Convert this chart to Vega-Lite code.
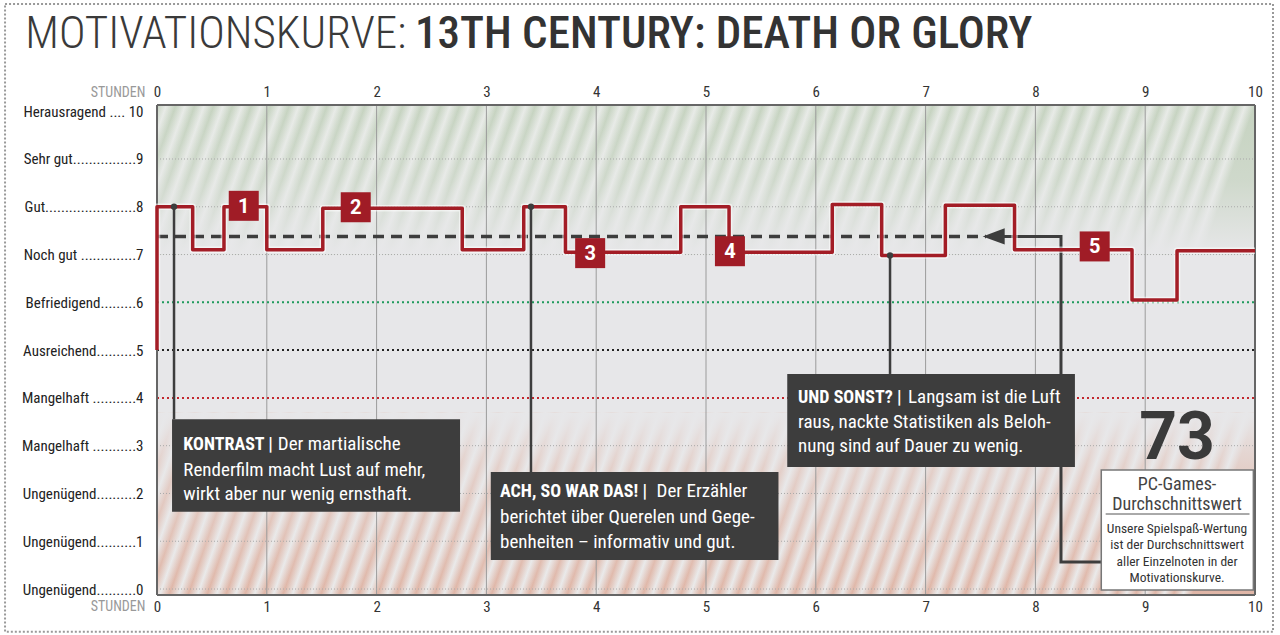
{
  "$schema": "https://vega.github.io/schema/vega-lite/v6.json",
  "width": 1098,
  "height": 490,
  "autosize": "none",
  "padding": {"left": 157, "top": 105, "right": 25, "bottom": 40},
  "background": "white",
  "config": {
    "view": {"fill": "#e7e7e9", "stroke": null},
    "font": "Liberation Sans Narrow, Roboto Condensed, Roboto",
    "text": {"font": "Liberation Sans Narrow, Roboto Condensed, Roboto"}
  },
  "datasets": {
    "steps": [
      {"i": 0, "h": 0, "v": 5}, {"i": 1, "h": 0, "v": 8}, {"i": 2, "h": 0.325, "v": 7.1},
      {"i": 3, "h": 0.61, "v": 8}, {"i": 4, "h": 1.0, "v": 7.1}, {"i": 5, "h": 1.51, "v": 7.97},
      {"i": 6, "h": 2.78, "v": 7.1}, {"i": 7, "h": 3.34, "v": 8}, {"i": 8, "h": 3.72, "v": 7.05},
      {"i": 9, "h": 4.77, "v": 8}, {"i": 10, "h": 5.21, "v": 7.05}, {"i": 11, "h": 6.15, "v": 8.05},
      {"i": 12, "h": 6.6, "v": 6.98}, {"i": 13, "h": 7.18, "v": 8.03}, {"i": 14, "h": 7.81, "v": 7.1},
      {"i": 15, "h": 8.88, "v": 6.05}, {"i": 16, "h": 9.29, "v": 7.08}, {"i": 17, "h": 10, "v": 7.08}
    ],
    "avg": [{"h": 0, "v": 7.38}, {"h": 7.55, "v": 7.38}],
    "arrowpath": [
      {"i": 0, "h": 7.62, "v": 7.38}, {"i": 1, "h": 8.233, "v": 7.38},
      {"i": 2, "h": 8.233, "v": 0.565}, {"i": 3, "h": 8.6, "v": 0.565}
    ],
    "badges": [
      {"h": 0.79, "v": 8.02, "n": "1"}, {"h": 1.81, "v": 7.99, "n": "2"},
      {"h": 3.945, "v": 7.03, "n": "3"}, {"h": 5.218, "v": 7.07, "n": "4"},
      {"h": 8.54, "v": 7.17, "n": "5"}
    ],
    "vgrid": [{"h": 1}, {"h": 2}, {"h": 3}, {"h": 4}, {"h": 5}, {"h": 6}, {"h": 7}, {"h": 8}, {"h": 9}],
    "hgrid": [{"v": 0}, {"v": 1}, {"v": 2}, {"v": 3}, {"v": 7}, {"v": 8}, {"v": 9}],
    "hgridc": [{"v": 6, "k": "Befriedigend"}, {"v": 5, "k": "Ausreichend"}, {"v": 4, "k": "Mangelhaft"}],
    "borders": [
      {"a": 0, "b": 10, "c": 10.13, "d": 10.13}, {"a": 0, "b": 10, "c": -0.125, "d": -0.125},
      {"a": 0, "b": 0, "c": -0.125, "d": 10.13}, {"a": 10, "b": 10, "c": -0.125, "d": 10.13}
    ],
    "connectors": [
      {"h": 0.155, "top": 8, "bot": 3.552},
      {"h": 3.406, "top": 8, "bot": 2.449},
      {"h": 6.676, "top": 6.98, "bot": 4.501}
    ],
    "boxes": [
      {"x1": 0.137, "x2": 2.76, "y1": 3.552, "y2": 1.618},
      {"x1": 3.04, "x2": 5.66, "y1": 2.449, "y2": 0.607},
      {"x1": 5.74, "x2": 8.36, "y1": 4.501, "y2": 2.554}
    ],
    "boldtext": [
      {"h": 0.24, "v": 2.91, "t": "KONTRAST |"},
      {"h": 3.124, "v": 1.92, "t": "ACH, SO WAR DAS! |"},
      {"h": 5.838, "v": 3.894, "t": "UND SONST? |"}
    ],
    "regtext": [
      {"h": 1.1, "v": 2.91, "t": "Der martialische"},
      {"h": 0.24, "v": 2.366, "t": "Renderfilm macht Lust auf mehr,"},
      {"h": 0.24, "v": 1.863, "t": "wirkt aber nur wenig ernsthaft."},
      {"h": 4.55, "v": 1.92, "t": "Der Erzähler"},
      {"h": 3.124, "v": 1.388, "t": "berichtet über Querelen und Gege-"},
      {"h": 3.124, "v": 0.852, "t": "benheiten – informativ und gut."},
      {"h": 6.84, "v": 3.894, "t": "Langsam ist die Luft"},
      {"h": 5.838, "v": 3.37, "t": "raus, nackte Statistiken als Beloh-"},
      {"h": 5.838, "v": 2.868, "t": "nung sind auf Dauer zu wenig."}
    ],
    "scoresmall": [
      {"t": "Unsere Spielspaß-Wertung", "v": 1.166},
      {"t": "ist der Durchschnittswert", "v": 0.837},
      {"t": "aller Einzelnoten in der", "v": 0.488},
      {"t": "Motivationskurve.", "v": 0.153}
    ],
    "one": [{}]
  },
  "resolve": {"axis": {"x": "independent", "y": "independent"}},
  "layer": [
    {
      "data": {"name": "one"},
      "mark": {"type": "rect", "fill": {"gradient": "linear", "x1": 0, "y1": 0, "x2": 1, "y2": 0.048,
        "stops": [
{"offset":0,"color":"#c4d2be"},{"offset":0.0086,"color":"#e8ebe7"},{"offset":0.0172,"color":"#c4d2be"},{"offset":0.0258,"color":"#e8ebe7"},
{"offset":0.0344,"color":"#c4d2be"},{"offset":0.043,"color":"#e8ebe7"},{"offset":0.0516,"color":"#c4d2be"},{"offset":0.0602,"color":"#e8ebe7"},
{"offset":0.0688,"color":"#c4d2be"},{"offset":0.0774,"color":"#e8ebe7"},{"offset":0.086,"color":"#c4d2be"},{"offset":0.0946,"color":"#e8ebe7"},
{"offset":0.1032,"color":"#c4d2be"},{"offset":0.1118,"color":"#e8ebe7"},{"offset":0.1204,"color":"#c4d2be"},{"offset":0.129,"color":"#e8ebe7"},
{"offset":0.1376,"color":"#c4d2be"},{"offset":0.1462,"color":"#e8ebe7"},{"offset":0.1548,"color":"#c4d2be"},{"offset":0.1634,"color":"#e8ebe7"},
{"offset":0.172,"color":"#c4d2be"},{"offset":0.1806,"color":"#e8ebe7"},{"offset":0.1892,"color":"#c4d2be"},{"offset":0.1978,"color":"#e8ebe7"},
{"offset":0.2064,"color":"#c4d2be"},{"offset":0.215,"color":"#e8ebe7"},{"offset":0.2236,"color":"#c4d2be"},{"offset":0.2322,"color":"#e8ebe7"},
{"offset":0.2408,"color":"#c4d2be"},{"offset":0.2494,"color":"#e8ebe7"},{"offset":0.258,"color":"#c4d2be"},{"offset":0.2666,"color":"#e8ebe7"},
{"offset":0.2752,"color":"#c4d2be"},{"offset":0.2838,"color":"#e8ebe7"},{"offset":0.2924,"color":"#c4d2be"},{"offset":0.301,"color":"#e8ebe7"},
{"offset":0.3096,"color":"#c4d2be"},{"offset":0.3182,"color":"#e8ebe7"},{"offset":0.3268,"color":"#c4d2be"},{"offset":0.3354,"color":"#e8ebe7"},
{"offset":0.344,"color":"#c4d2be"},{"offset":0.3526,"color":"#e8ebe7"},{"offset":0.3612,"color":"#c4d2be"},{"offset":0.3698,"color":"#e8ebe7"},
{"offset":0.3784,"color":"#c4d2be"},{"offset":0.387,"color":"#e8ebe7"},{"offset":0.3956,"color":"#c4d2be"},{"offset":0.4042,"color":"#e8ebe7"},
{"offset":0.4128,"color":"#c4d2be"},{"offset":0.4214,"color":"#e8ebe7"},{"offset":0.43,"color":"#c4d2be"},{"offset":0.4386,"color":"#e8ebe7"},
{"offset":0.4472,"color":"#c4d2be"},{"offset":0.4558,"color":"#e8ebe7"},{"offset":0.4644,"color":"#c4d2be"},{"offset":0.473,"color":"#e8ebe7"},
{"offset":0.4816,"color":"#c4d2be"},{"offset":0.4902,"color":"#e8ebe7"},{"offset":0.4988,"color":"#c4d2be"},{"offset":0.5074,"color":"#e8ebe7"},
{"offset":0.516,"color":"#c4d2be"},{"offset":0.5246,"color":"#e8ebe7"},{"offset":0.5332,"color":"#c4d2be"},{"offset":0.5418,"color":"#e8ebe7"},
{"offset":0.5504,"color":"#c4d2be"},{"offset":0.559,"color":"#e8ebe7"},{"offset":0.5676,"color":"#c4d2be"},{"offset":0.5762,"color":"#e8ebe7"},
{"offset":0.5848,"color":"#c4d2be"},{"offset":0.5934,"color":"#e8ebe7"},{"offset":0.602,"color":"#c4d2be"},{"offset":0.6106,"color":"#e8ebe7"},
{"offset":0.6192,"color":"#c4d2be"},{"offset":0.6278,"color":"#e8ebe7"},{"offset":0.6364,"color":"#c4d2be"},{"offset":0.645,"color":"#e8ebe7"},
{"offset":0.6536,"color":"#c4d2be"},{"offset":0.6622,"color":"#e8ebe7"},{"offset":0.6708,"color":"#c4d2be"},{"offset":0.6794,"color":"#e8ebe7"},
{"offset":0.688,"color":"#c4d2be"},{"offset":0.6966,"color":"#e8ebe7"},{"offset":0.7052,"color":"#c4d2be"},{"offset":0.7138,"color":"#e8ebe7"},
{"offset":0.7224,"color":"#c4d2be"},{"offset":0.731,"color":"#e8ebe7"},{"offset":0.7396,"color":"#c4d2be"},{"offset":0.7482,"color":"#e8ebe7"},
{"offset":0.7568,"color":"#c4d2be"},{"offset":0.7654,"color":"#e8ebe7"},{"offset":0.774,"color":"#c4d2be"},{"offset":0.7826,"color":"#e8ebe7"},
{"offset":0.7912,"color":"#c4d2be"},{"offset":0.7998,"color":"#e8ebe7"},{"offset":0.8084,"color":"#c4d2be"},{"offset":0.817,"color":"#e8ebe7"},
{"offset":0.8256,"color":"#c4d2be"},{"offset":0.8342,"color":"#e8ebe7"},{"offset":0.8428,"color":"#c4d2be"},{"offset":0.8514,"color":"#e8ebe7"},
{"offset":0.86,"color":"#c4d2be"},{"offset":0.8686,"color":"#e8ebe7"},{"offset":0.8772,"color":"#c4d2be"},{"offset":0.8858,"color":"#e8ebe7"},
{"offset":0.8944,"color":"#c4d2be"},{"offset":0.903,"color":"#e8ebe7"},{"offset":0.9116,"color":"#c4d2be"},{"offset":0.9202,"color":"#e8ebe7"},
{"offset":0.9288,"color":"#c4d2be"},{"offset":0.9374,"color":"#e8ebe7"},{"offset":0.946,"color":"#c4d2be"},{"offset":0.9546,"color":"#e8ebe7"},
{"offset":0.9632,"color":"#c4d2be"},{"offset":0.9718,"color":"#e8ebe7"},{"offset":0.9804,"color":"#c4d2be"},{"offset":0.989,"color":"#e8ebe7"},
{"offset":0.9976,"color":"#c4d2be"}
        ]}},
      "encoding": {
        "x": {"datum": 0, "type": "quantitative", "scale": {"domain": [0, 10], "nice": false, "zero": false}, "axis": null},
        "x2": {"datum": 10},
        "y": {"datum": 10.13, "type": "quantitative", "scale": {"domain": [-0.125, 10.13], "nice": false, "zero": false}, "axis": null},
        "y2": {"datum": 7.0}
      }
    },
    {
      "data": {"name": "one"},
      "mark": {"type": "rect", "fill": {"gradient": "linear", "x1": 0, "y1": 0, "x2": 0, "y2": 1,
        "stops": [{"offset": 0, "color": "rgba(231,231,233,0.05)"}, {"offset": 0.5, "color": "rgba(231,231,233,0.3)"}, {"offset": 1, "color": "rgba(231,231,233,1)"}]}},
      "encoding": {
        "x": {"datum": 0, "type": "quantitative", "axis": null},
        "x2": {"datum": 10},
        "y": {"datum": 10.13, "type": "quantitative", "axis": null},
        "y2": {"datum": 7.0}
      }
    },
    {
      "data": {"name": "one"},
      "mark": {"type": "rect", "fill": {"gradient": "linear", "x1": 0, "y1": 0, "x2": 1, "y2": 0.058,
        "stops": [
{"offset":0,"color":"#dfb3a3"},{"offset":0.0086,"color":"#eaeaea"},{"offset":0.0172,"color":"#dfb3a3"},{"offset":0.0258,"color":"#eaeaea"},
{"offset":0.0344,"color":"#dfb3a3"},{"offset":0.043,"color":"#eaeaea"},{"offset":0.0516,"color":"#dfb3a3"},{"offset":0.0602,"color":"#eaeaea"},
{"offset":0.0688,"color":"#dfb3a3"},{"offset":0.0774,"color":"#eaeaea"},{"offset":0.086,"color":"#dfb3a3"},{"offset":0.0946,"color":"#eaeaea"},
{"offset":0.1032,"color":"#dfb3a3"},{"offset":0.1118,"color":"#eaeaea"},{"offset":0.1204,"color":"#dfb3a3"},{"offset":0.129,"color":"#eaeaea"},
{"offset":0.1376,"color":"#dfb3a3"},{"offset":0.1462,"color":"#eaeaea"},{"offset":0.1548,"color":"#dfb3a3"},{"offset":0.1634,"color":"#eaeaea"},
{"offset":0.172,"color":"#dfb3a3"},{"offset":0.1806,"color":"#eaeaea"},{"offset":0.1892,"color":"#dfb3a3"},{"offset":0.1978,"color":"#eaeaea"},
{"offset":0.2064,"color":"#dfb3a3"},{"offset":0.215,"color":"#eaeaea"},{"offset":0.2236,"color":"#dfb3a3"},{"offset":0.2322,"color":"#eaeaea"},
{"offset":0.2408,"color":"#dfb3a3"},{"offset":0.2494,"color":"#eaeaea"},{"offset":0.258,"color":"#dfb3a3"},{"offset":0.2666,"color":"#eaeaea"},
{"offset":0.2752,"color":"#dfb3a3"},{"offset":0.2838,"color":"#eaeaea"},{"offset":0.2924,"color":"#dfb3a3"},{"offset":0.301,"color":"#eaeaea"},
{"offset":0.3096,"color":"#dfb3a3"},{"offset":0.3182,"color":"#eaeaea"},{"offset":0.3268,"color":"#dfb3a3"},{"offset":0.3354,"color":"#eaeaea"},
{"offset":0.344,"color":"#dfb3a3"},{"offset":0.3526,"color":"#eaeaea"},{"offset":0.3612,"color":"#dfb3a3"},{"offset":0.3698,"color":"#eaeaea"},
{"offset":0.3784,"color":"#dfb3a3"},{"offset":0.387,"color":"#eaeaea"},{"offset":0.3956,"color":"#dfb3a3"},{"offset":0.4042,"color":"#eaeaea"},
{"offset":0.4128,"color":"#dfb3a3"},{"offset":0.4214,"color":"#eaeaea"},{"offset":0.43,"color":"#dfb3a3"},{"offset":0.4386,"color":"#eaeaea"},
{"offset":0.4472,"color":"#dfb3a3"},{"offset":0.4558,"color":"#eaeaea"},{"offset":0.4644,"color":"#dfb3a3"},{"offset":0.473,"color":"#eaeaea"},
{"offset":0.4816,"color":"#dfb3a3"},{"offset":0.4902,"color":"#eaeaea"},{"offset":0.4988,"color":"#dfb3a3"},{"offset":0.5074,"color":"#eaeaea"},
{"offset":0.516,"color":"#dfb3a3"},{"offset":0.5246,"color":"#eaeaea"},{"offset":0.5332,"color":"#dfb3a3"},{"offset":0.5418,"color":"#eaeaea"},
{"offset":0.5504,"color":"#dfb3a3"},{"offset":0.559,"color":"#eaeaea"},{"offset":0.5676,"color":"#dfb3a3"},{"offset":0.5762,"color":"#eaeaea"},
{"offset":0.5848,"color":"#dfb3a3"},{"offset":0.5934,"color":"#eaeaea"},{"offset":0.602,"color":"#dfb3a3"},{"offset":0.6106,"color":"#eaeaea"},
{"offset":0.6192,"color":"#dfb3a3"},{"offset":0.6278,"color":"#eaeaea"},{"offset":0.6364,"color":"#dfb3a3"},{"offset":0.645,"color":"#eaeaea"},
{"offset":0.6536,"color":"#dfb3a3"},{"offset":0.6622,"color":"#eaeaea"},{"offset":0.6708,"color":"#dfb3a3"},{"offset":0.6794,"color":"#eaeaea"},
{"offset":0.688,"color":"#dfb3a3"},{"offset":0.6966,"color":"#eaeaea"},{"offset":0.7052,"color":"#dfb3a3"},{"offset":0.7138,"color":"#eaeaea"},
{"offset":0.7224,"color":"#dfb3a3"},{"offset":0.731,"color":"#eaeaea"},{"offset":0.7396,"color":"#dfb3a3"},{"offset":0.7482,"color":"#eaeaea"},
{"offset":0.7568,"color":"#dfb3a3"},{"offset":0.7654,"color":"#eaeaea"},{"offset":0.774,"color":"#dfb3a3"},{"offset":0.7826,"color":"#eaeaea"},
{"offset":0.7912,"color":"#dfb3a3"},{"offset":0.7998,"color":"#eaeaea"},{"offset":0.8084,"color":"#dfb3a3"},{"offset":0.817,"color":"#eaeaea"},
{"offset":0.8256,"color":"#dfb3a3"},{"offset":0.8342,"color":"#eaeaea"},{"offset":0.8428,"color":"#dfb3a3"},{"offset":0.8514,"color":"#eaeaea"},
{"offset":0.86,"color":"#dfb3a3"},{"offset":0.8686,"color":"#eaeaea"},{"offset":0.8772,"color":"#dfb3a3"},{"offset":0.8858,"color":"#eaeaea"},
{"offset":0.8944,"color":"#dfb3a3"},{"offset":0.903,"color":"#eaeaea"},{"offset":0.9116,"color":"#dfb3a3"},{"offset":0.9202,"color":"#eaeaea"},
{"offset":0.9288,"color":"#dfb3a3"},{"offset":0.9374,"color":"#eaeaea"},{"offset":0.946,"color":"#dfb3a3"},{"offset":0.9546,"color":"#eaeaea"},
{"offset":0.9632,"color":"#dfb3a3"},{"offset":0.9718,"color":"#eaeaea"},{"offset":0.9804,"color":"#dfb3a3"},{"offset":0.989,"color":"#eaeaea"},
{"offset":0.9976,"color":"#dfb3a3"}
        ]}},
      "encoding": {
        "x": {"datum": 0, "type": "quantitative", "axis": null},
        "x2": {"datum": 10},
        "y": {"datum": 3.7, "type": "quantitative", "axis": null},
        "y2": {"datum": -0.125}
      }
    },
    {
      "data": {"name": "one"},
      "mark": {"type": "rect", "fill": {"gradient": "linear", "x1": 0, "y1": 0, "x2": 0, "y2": 1,
        "stops": [{"offset": 0, "color": "rgba(231,231,233,1)"}, {"offset": 0.3, "color": "rgba(231,231,233,0.55)"}, {"offset": 1, "color": "rgba(231,231,233,0.05)"}]}},
      "encoding": {
        "x": {"datum": 0, "type": "quantitative", "axis": null},
        "x2": {"datum": 10},
        "y": {"datum": 3.7, "type": "quantitative", "axis": null},
        "y2": {"datum": -0.125}
      }
    },
    {
      "data": {"name": "vgrid"},
      "mark": {"type": "rule", "color": "#9b9b9b", "strokeWidth": 1},
      "encoding": {
        "x": {"field": "h", "type": "quantitative",
          "axis": {"orient": "top", "values": [0, 1, 2, 3, 4, 5, 6, 7, 8, 9, 10], "format": "d",
            "ticks": false, "tickSize": 0, "domain": false, "grid": false, "labelPadding": 6,
            "labelFont": "Liberation Sans Narrow, Roboto Condensed, Roboto", "labelFontSize": 15, "labelColor": "#333",
            "labelFlush": false, "labelOverlap": false,
            "title": "STUNDEN", "titleColor": "#999", "titleFont": "Liberation Sans Narrow, Roboto Condensed, Roboto",
            "titleFontSize": 14, "titleFontWeight": "normal", "titleAngle": 0,
            "titleX": -12, "titleY": -6, "titleAlign": "right", "titleBaseline": "bottom"}},
        "y": {"datum": -0.125, "type": "quantitative", "axis": null},
        "y2": {"datum": 10.13}
      }
    },
    {
      "data": {"name": "hgrid"},
      "mark": {"type": "rule", "color": "#a9a9a9", "strokeWidth": 1, "strokeDash": [1, 2]},
      "encoding": {
        "x": {"datum": 0, "type": "quantitative", "axis": null},
        "x2": {"datum": 10},
        "y": {"field": "v", "type": "quantitative",
          "axis": {"orient": "left", "values": [0, 1, 2, 3, 4, 5, 6, 7, 8, 9, 10],
            "labelExpr": "['Ungenügend..........0','Ungenügend..........1','Ungenügend..........2','Mangelhaft ...........3','Mangelhaft ...........4','Ausreichend..........5','Befriedigend.........6','Noch gut ..............7','Gut.......................8','Sehr gut................9','Herausragend .... 10'][datum.value]",
            "ticks": false, "tickSize": 0, "domain": false, "grid": false, "labelPadding": 14,
            "labelFont": "Liberation Sans Narrow, Roboto Condensed, Roboto", "labelFontSize": 15, "labelColor": "#222",
            "labelBaseline": "middle", "labelFlush": false, "labelOverlap": false, "title": null}}
      }
    },
    {
      "data": {"name": "hgridc"},
      "mark": {"type": "rule", "strokeWidth": 2, "strokeDash": [2, 3]},
      "encoding": {
        "x": {"datum": 0, "type": "quantitative", "axis": null},
        "x2": {"datum": 10},
        "y": {"field": "v", "type": "quantitative", "axis": null},
        "color": {"field": "k", "type": "nominal", "legend": null,
          "scale": {"domain": ["Befriedigend", "Ausreichend", "Mangelhaft"], "range": ["#1f9a5c", "#222222", "#c2272d"]}}
      }
    },
    {
      "data": {"name": "borders"},
      "mark": {"type": "rule", "color": "#666", "strokeWidth": 2},
      "encoding": {
        "x": {"field": "a", "type": "quantitative", "axis": null},
        "x2": {"field": "b"},
        "y": {"field": "c", "type": "quantitative", "axis": null},
        "y2": {"field": "d"}
      }
    },
    {
      "data": {"name": "avg"},
      "mark": {"type": "line", "color": "#3d3d3d", "strokeWidth": 3.5, "strokeDash": [11, 7]},
      "encoding": {
        "x": {"field": "h", "type": "quantitative", "axis": null},
        "y": {"field": "v", "type": "quantitative", "axis": null}
      }
    },
    {
      "data": {"name": "arrowpath"},
      "mark": {"type": "line", "color": "#3d3d3d", "strokeWidth": 3, "strokeJoin": "miter"},
      "encoding": {
        "x": {"field": "h", "type": "quantitative", "axis": null},
        "y": {"field": "v", "type": "quantitative", "axis": null},
        "order": {"field": "i", "type": "quantitative"}
      }
    },
    {
      "data": {"name": "one"},
      "mark": {"type": "point", "shape": "M -1 0 L 1 -0.73 L 1 0.73 Z", "size": 484, "filled": true, "color": "#3d3d3d", "opacity": 1},
      "encoding": {
        "x": {"datum": 7.62, "type": "quantitative", "axis": null},
        "y": {"datum": 7.38, "type": "quantitative", "axis": null}
      }
    },
    {
      "data": {"name": "steps"},
      "mark": {"type": "line", "interpolate": "step-after", "color": "#ffffff", "opacity": 0.55, "strokeWidth": 6.5, "strokeJoin": "round"},
      "encoding": {
        "x": {"field": "h", "type": "quantitative", "axis": null},
        "y": {"field": "v", "type": "quantitative", "axis": null},
        "order": {"field": "i", "type": "quantitative"}
      }
    },
    {
      "data": {"name": "steps"},
      "mark": {"type": "line", "interpolate": "step-after", "color": "#a31d26", "strokeWidth": 3.5, "strokeJoin": "round"},
      "encoding": {
        "x": {"field": "h", "type": "quantitative", "scale": {"domain": [0, 10], "nice": false, "zero": false},
          "axis": {"orient": "bottom", "values": [0, 1, 2, 3, 4, 5, 6, 7, 8, 9, 10], "format": "d",
            "ticks": false, "tickSize": 0, "domain": false, "grid": false, "labelPadding": 4,
            "labelFont": "Liberation Sans Narrow, Roboto Condensed, Roboto", "labelFontSize": 15, "labelColor": "#333",
            "labelFlush": false, "labelOverlap": false,
            "title": "STUNDEN", "titleColor": "#999", "titleFont": "Liberation Sans Narrow, Roboto Condensed, Roboto",
            "titleFontSize": 14, "titleFontWeight": "normal", "titleAngle": 0,
            "titleX": -12, "titleY": 4, "titleAlign": "right", "titleBaseline": "top"}},
        "y": {"field": "v", "type": "quantitative", "axis": null},
        "order": {"field": "i", "type": "quantitative"}
      }
    },
    {
      "data": {"name": "badges"},
      "mark": {"type": "point", "shape": "square", "filled": true, "size": 900, "color": "#a01c26", "opacity": 1},
      "encoding": {
        "x": {"field": "h", "type": "quantitative", "axis": null},
        "y": {"field": "v", "type": "quantitative", "axis": null}
      }
    },
    {
      "data": {"name": "badges"},
      "mark": {"type": "text", "font": "Roboto", "fontWeight": "bold", "fontSize": 20, "color": "white", "baseline": "middle", "align": "center", "dy": 1},
      "encoding": {
        "x": {"field": "h", "type": "quantitative", "axis": null},
        "y": {"field": "v", "type": "quantitative", "axis": null},
        "text": {"field": "n"}
      }
    },
    {
      "data": {"name": "connectors"},
      "mark": {"type": "rule", "color": "#3d3d3d", "strokeWidth": 2.5},
      "encoding": {
        "x": {"field": "h", "type": "quantitative", "axis": null},
        "y": {"field": "top", "type": "quantitative", "axis": null},
        "y2": {"field": "bot"}
      }
    },
    {
      "data": {"name": "connectors"},
      "mark": {"type": "point", "shape": "circle", "filled": true, "size": 40, "color": "#3d3d3d", "opacity": 1},
      "encoding": {
        "x": {"field": "h", "type": "quantitative", "axis": null},
        "y": {"field": "top", "type": "quantitative", "axis": null}
      }
    },
    {
      "data": {"name": "boxes"},
      "mark": {"type": "rect", "color": "#3d3d3d"},
      "encoding": {
        "x": {"field": "x1", "type": "quantitative", "axis": null},
        "x2": {"field": "x2"},
        "y": {"field": "y1", "type": "quantitative", "axis": null},
        "y2": {"field": "y2"}
      }
    },
    {
      "data": {"name": "boldtext"},
      "mark": {"type": "text", "fontWeight": "bold", "fontSize": 18, "color": "white", "align": "left", "baseline": "alphabetic"},
      "encoding": {
        "x": {"field": "h", "type": "quantitative", "axis": null},
        "y": {"field": "v", "type": "quantitative", "axis": null},
        "text": {"field": "t"}
      }
    },
    {
      "data": {"name": "regtext"},
      "mark": {"type": "text", "fontSize": 19, "color": "white", "align": "left", "baseline": "alphabetic"},
      "encoding": {
        "x": {"field": "h", "type": "quantitative", "axis": null},
        "y": {"field": "v", "type": "quantitative", "axis": null},
        "text": {"field": "t"}
      }
    },
    {
      "data": {"name": "one"},
      "mark": {"type": "rect", "fill": "white", "stroke": "#777", "strokeWidth": 1.5},
      "encoding": {
        "x": {"datum": 8.6, "type": "quantitative", "axis": null},
        "x2": {"datum": 9.985},
        "y": {"datum": 2.491, "type": "quantitative", "axis": null},
        "y2": {"datum": -0.021}
      }
    },
    {
      "data": {"name": "one"},
      "mark": {"type": "rule", "color": "#555", "strokeWidth": 1},
      "encoding": {
        "x": {"datum": 8.64, "type": "quantitative", "axis": null},
        "x2": {"datum": 9.95},
        "y": {"datum": 1.57, "type": "quantitative", "axis": null}
      }
    },
    {
      "data": {"name": "one"},
      "mark": {"type": "text", "font": "Roboto", "fontWeight": "bold", "fontSize": 66, "color": "#3a3a3a", "align": "center", "baseline": "alphabetic"},
      "encoding": {
        "x": {"datum": 9.29, "type": "quantitative", "axis": null},
        "y": {"datum": 2.73, "type": "quantitative", "axis": null},
        "text": {"value": "73"}
      }
    },
    {
      "data": {"name": "one"},
      "mark": {"type": "text", "fontSize": 18, "lineHeight": 20, "color": "#444", "align": "center", "baseline": "alphabetic"},
      "encoding": {
        "x": {"datum": 9.29, "type": "quantitative", "axis": null},
        "y": {"datum": 2.08, "type": "quantitative", "axis": null},
        "text": {"value": ["PC-Games-", "Durchschnittswert"]}
      }
    },
    {
      "data": {"name": "scoresmall"},
      "mark": {"type": "text", "fontSize": 13.5, "color": "#333", "align": "center", "baseline": "alphabetic"},
      "encoding": {
        "x": {"datum": 9.29, "type": "quantitative", "axis": null},
        "y": {"field": "v", "type": "quantitative", "axis": null},
        "text": {"field": "t"}
      }
    },
    {
      "data": {"name": "one"},
      "mark": {"type": "text", "fontSize": 45, "fontWeight": 300, "color": "#3a3a3a", "align": "left", "baseline": "alphabetic"},
      "encoding": {
        "x": {"datum": -1.2, "type": "quantitative", "axis": null},
        "y": {"datum": 11.325, "type": "quantitative", "axis": null},
        "text": {"value": "MOTIVATIONSKURVE:"}
      }
    },
    {
      "data": {"name": "one"},
      "mark": {"type": "text", "fontSize": 45, "fontWeight": 500, "color": "#333", "align": "left", "baseline": "alphabetic"},
      "encoding": {
        "x": {"datum": 2.35, "type": "quantitative", "axis": null},
        "y": {"datum": 11.325, "type": "quantitative", "axis": null},
        "text": {"value": "13TH CENTURY: DEATH OR GLORY"}
      }
    },
    {
      "data": {"name": "one"},
      "mark": {"type": "rect", "fill": "white", "fillOpacity": 0, "stroke": "#999", "strokeWidth": 2, "strokeDash": [2, 2]},
      "encoding": {
        "x": {"datum": -1.384, "type": "quantitative", "axis": null},
        "x2": {"datum": 10.164},
        "y": {"datum": 12.246, "type": "quantitative", "axis": null},
        "y2": {"datum": -0.894}
      }
    }
  ]
}
